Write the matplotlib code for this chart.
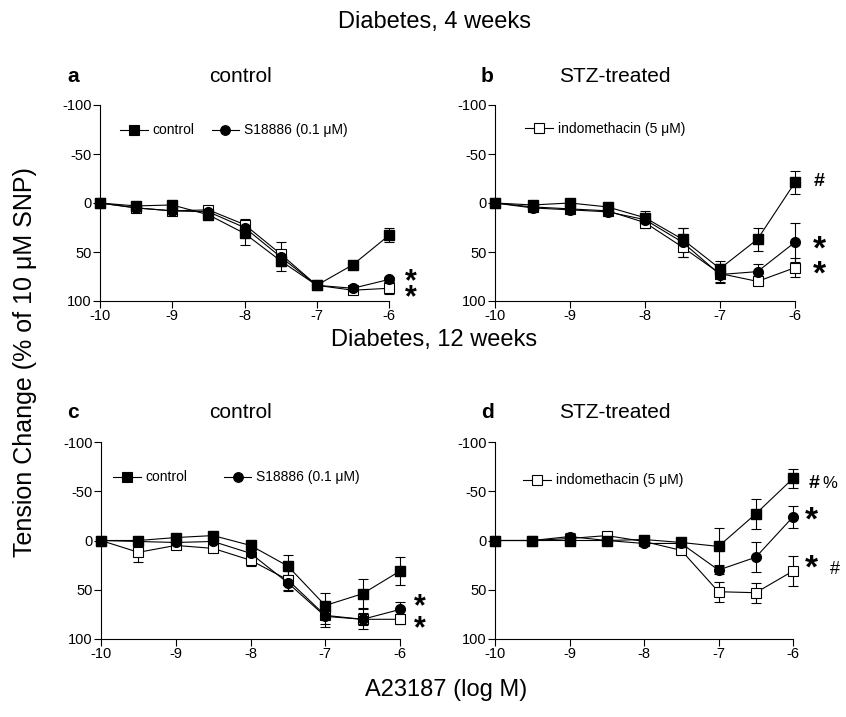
import matplotlib
matplotlib.use("Agg")
import matplotlib.pyplot as plt
from matplotlib.lines import Line2D

plt.rcParams["font.family"] = ["Liberation Sans", "DejaVu Sans"]
plt.rcParams["axes.unicode_minus"] = False

conc = [-10, -9.5, -9, -8.5, -8, -7.5, -7, -6.5, -6]
x_ticks = [-10, -9, -8, -7, -6]
y_ticks = [-100, -50, 0, 50, 100]

# panel a: 4 weeks, control rats
a_ctrl = [0, 3, 2, 12, 31, 59, 84, 63, 33]
a_ctrl_err = [2, 3, 3, 4, 12, 10, 3, 2, 7]
a_s18 = [0, 5, 8, 9, 25, 55, 84, 87, 78]
a_s18_err = [1, 2, 3, 3, 5, 7, 3, 2, 3]
a_indo = [0, 5, 8, 7, 22, 52, 84, 89, 87]
a_indo_err = [1, 2, 3, 3, 6, 12, 3, 3, 6]

# panel b: 4 weeks, STZ-treated
b_ctrl = [0, 2, 0, 4, 15, 37, 67, 37, -21]
b_ctrl_err = [2, 2, 3, 2, 7, 12, 8, 12, 12]
b_s18 = [0, 5, 7, 9, 17, 40, 73, 70, 40]
b_s18_err = [1, 2, 2, 2, 6, 15, 8, 8, 20]
b_indo = [0, 4, 6, 8, 20, 45, 72, 80, 66]
b_indo_err = [1, 2, 2, 2, 6, 10, 10, 4, 10]

# panel c: 12 weeks, control rats
c_ctrl = [0, 0, -3, -5, 5, 26, 66, 54, 31]
c_ctrl_err = [2, 2, 2, 2, 4, 11, 13, 15, 14]
c_s18 = [0, 1, 2, 1, 13, 43, 77, 80, 70]
c_s18_err = [1, 2, 2, 2, 4, 8, 8, 6, 8]
c_indo = [0, 12, 5, 8, 20, 40, 76, 80, 80]
c_indo_err = [1, 10, 3, 3, 6, 10, 12, 10, 5]

# panel d: 12 weeks, STZ-treated
d_ctrl = [0, 0, 0, 0, -1, 2, 6, -27, -63]
d_ctrl_err = [2, 2, 2, 2, 2, 5, 19, 15, 10]
d_s18 = [0, 0, -4, 0, 3, 3, 30, 17, -24]
d_s18_err = [1, 2, 4, 2, 2, 3, 4, 15, 11]
d_indo = [0, 0, -2, -5, 1, 10, 52, 53, 31]
d_indo_err = [1, 2, 5, 2, 2, 3, 10, 10, 15]

label_ctrl = "control"
label_s18 = "S18886 (0.1 \u03bcM)"
label_indo = "indomethacin (5 \u03bcM)"

W, H = 846, 717


def px_axes(fig, left, top, right, bottom):
    return fig.add_axes([left / W, 1 - bottom / H, (right - left) / W, (bottom - top) / H])


def draw_panel(ax, ctrl, ctrl_err, s18, s18_err, indo, indo_err):
    kw = dict(color="black", lw=0.8, capsize=3.5, elinewidth=0.8, capthick=0.8)
    conts = [
        ax.errorbar(conc, indo, yerr=indo_err, marker="s", ms=7, mfc="white", mec="black", mew=0.8, **kw),
        ax.errorbar(conc, s18, yerr=s18_err, marker="o", ms=7, mfc="black", mec="black", **kw),
        ax.errorbar(conc, ctrl, yerr=ctrl_err, marker="s", ms=7, mfc="black", mec="black", **kw),
    ]
    for c in conts:
        for art in c.get_children():
            art.set_clip_on(False)
    ax.set_xlim(-10, -6)
    ax.set_ylim(100, -100)
    ax.set_xticks(x_ticks)
    ax.set_yticks(y_ticks)
    ax.tick_params(labelsize=10.5, length=5, width=0.8, pad=1)
    for s in ("top", "right"):
        ax.spines[s].set_visible(False)
    for s in ("left", "bottom"):
        ax.spines[s].set_linewidth(0.8)


def handle(marker, filled):
    return Line2D([], [], color="black", lw=0.8, marker=marker, ms=7,
                  mfc="black" if filled else "white", mec="black", mew=0.8)


def note(ax, x, y, s, size, spacing=1.0, bold=True):
    ax.text(x, y, s, fontsize=size, fontweight="bold" if bold else "normal",
            ha="center", va="center", linespacing=spacing, clip_on=False)


fig = plt.figure(figsize=(W / 100, H / 100), dpi=100)

ax_a = px_axes(fig, 100, 105, 389, 301)
ax_b = px_axes(fig, 495, 105, 795, 301)
ax_c = px_axes(fig, 101, 442, 400, 639)
ax_d = px_axes(fig, 495, 442, 793, 639)

draw_panel(ax_a, a_ctrl, a_ctrl_err, a_s18, a_s18_err, a_indo, a_indo_err)
draw_panel(ax_b, b_ctrl, b_ctrl_err, b_s18, b_s18_err, b_indo, b_indo_err)
draw_panel(ax_c, c_ctrl, c_ctrl_err, c_s18, c_s18_err, c_indo, c_indo_err)
draw_panel(ax_d, d_ctrl, d_ctrl_err, d_s18, d_s18_err, d_indo, d_indo_err)

leg_kw = dict(frameon=False, fontsize=10, handlelength=2.0, handletextpad=0.35,
              borderpad=0, borderaxespad=0, loc="center left")
ax_a.legend([handle("s", True), handle("o", True)], [label_ctrl, label_s18], ncol=2,
            columnspacing=1.2, bbox_to_anchor=(0.07, 0.87), **leg_kw)
ax_c.legend([handle("s", True), handle("o", True)], [label_ctrl, label_s18], ncol=2,
            columnspacing=2.6, bbox_to_anchor=(0.04, 0.82), **leg_kw)
ax_b.legend([handle("s", False)], [label_indo], bbox_to_anchor=(0.1, 0.88), **leg_kw)
ax_d.legend([handle("s", False)], [label_indo], bbox_to_anchor=(0.094, 0.805), **leg_kw)

# significance marks; stacked asterisks share one text
note(ax_a, -5.7, 89, "*\n*", 22, spacing=0.42)
note(ax_b, -5.68, -22, "#", 14)
note(ax_b, -5.68, 61, "*\n*", 24, spacing=0.76)
note(ax_c, -5.73, 79, "*\n*", 22, spacing=0.65)
note(ax_d, -5.71, -58, "#", 14)
note(ax_d, -5.51, -58, "%", 12, bold=False)
note(ax_d, -5.75, -20, "*", 24)
note(ax_d, -5.75, 29, "*", 24)
note(ax_d, -5.44, 29, "#", 13, bold=False)

fig.text(434 / W, 1 - 22 / H, "Diabetes, 4 weeks", fontsize=17, ha="center", va="center")
fig.text(434 / W, 1 - 340 / H, "Diabetes, 12 weeks", fontsize=17, ha="center", va="center")
for x, y, s in [(73, 76, "a"), (487, 76, "b"), (73, 413, "c"), (487, 413, "d")]:
    fig.text(x / W, 1 - y / H, s, fontsize=15, fontweight="bold", ha="center", va="center")
for x, y, s in [(240, 76, "control"), (615, 76, "STZ-treated"),
                (240, 413, "control"), (615, 413, "STZ-treated")]:
    fig.text(x / W, 1 - y / H, s, fontsize=15, ha="center", va="center")

fig.text(25 / W, 1 - 362 / H, "Tension Change (% of 10 \u03bcM SNP)", fontsize=18,
         rotation=90, ha="center", va="center")
fig.text(446 / W, 1 - 690 / H, "A23187 (log M)", fontsize=17, ha="center", va="center")

fig.savefig("out.png", dpi=100)
